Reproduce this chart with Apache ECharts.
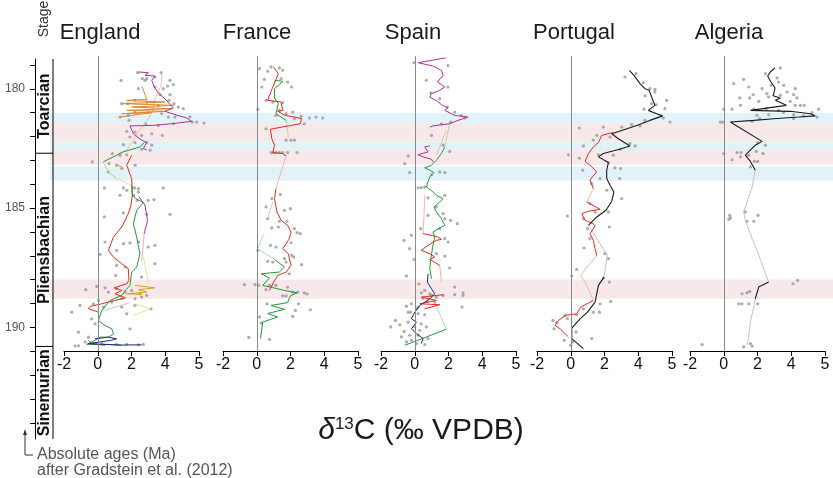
<!DOCTYPE html>
<html>
<head>
<meta charset="utf-8">
<script src="https://cdn.jsdelivr.net/npm/echarts@6/dist/echarts.min.js"></script>
<style>
  html, body { margin: 0; padding: 0; background: #fff; }
  #chart { width: 833px; height: 478px; }
</style>
</head>
<body>
<div id="chart"></div>
<script>
// panels, stages and bands
var panelNames = ['England', 'France', 'Spain', 'Portugal', 'Algeria'];
var stageNames = ['Toarcian', 'Pliensbachian', 'Sinemurian'];
var stageBounds = [[178.75, 182.7], [182.7, 190.8], [190.8, 194.68]];
var ageTicks = [179, 180, 181, 182, 183, 184, 185, 186, 187, 188, 189, 190, 191, 192, 193, 194];
var ageLabels = [180, 185, 190];
var xTickLabels = ['-2', '0', '2', '4', '5'];
var blueBands = [[180.98, 181.42], [182.19, 182.54], [183.23, 183.82]];
var pinkBands = [[181.42, 182.19], [182.54, 183.16], [187.97, 188.78]];

// every pair is [d13C, age Ma]
var englandPoints = [[2.37,179.30],[3.75,179.30],[1.38,179.62],[2.64,179.55],[2.80,179.62],[2.90,179.55],[3.39,179.48],[4.28,179.62],[4.48,179.80],[4.14,179.86],[3.39,179.90],[3.88,179.97],[2.41,179.97],[3.69,180.22],[4.28,180.22],[2.21,180.46],[1.42,180.60],[1.78,180.60],[2.90,180.53],[3.59,180.67],[4.22,180.46],[4.52,180.60],[4.77,180.74],[5.07,180.81],[1.32,181.16],[1.81,181.09],[2.21,180.95],[2.99,180.97],[3.79,181.02],[4.18,181.16],[4.58,181.16],[5.46,181.16],[5.86,181.37],[6.3,181.41],[5.6,181.37],[1.85,181.30],[2.84,181.44],[3.59,181.51],[4.48,181.44],[1.72,181.76],[2.21,181.79],[1.91,182.0],[2.60,181.93],[3.20,181.86],[3.83,181.93],[2.21,182.23],[2.90,182.23],[3.20,182.34],[1.52,182.32],[2.60,182.51],[3.10,182.55],[0.87,182.69],[1.32,182.76],[1.72,182.74],[-0.32,183.04],[0.67,183.11],[1.12,183.18],[1.42,183.32],[2.21,183.18],[0.63,183.46],[0.39,184.13],[1.52,184.13],[1.72,184.23],[2.17,184.13],[2.41,184.16],[2.41,184.30],[3.88,184.13],[1.32,184.44],[2.13,184.44],[2.33,184.65],[2.99,184.65],[3.33,184.62],
  [0.39,185.35],[1.52,185.18],[2.90,185.24],[4.28,185.24],[0.43,186.40],[1.52,186.47],[1.91,186.44],[2.41,186.40],[2.99,186.61],[3.39,186.54],[0.14,186.92],[1.12,186.75],[1.12,187.38],[1.64,187.45],[3.39,187.31],[1.06,187.80],[2.60,187.87],[-0.06,188.26],[-0.71,188.40],[0.43,188.32],[0.63,188.50],[1.12,188.36],[1.64,188.50],[2.01,188.43],[2.50,188.57],[2.90,188.64],[1.42,188.78],[2.21,188.78],[2.60,188.71],[0.04,188.85],[-0.26,188.99],[-1.05,189.06],[-1.54,189.34],[0.34,189.13],[0.83,188.92],[1.42,189.13],[2.21,189.06],[3.16,189.20],[-0.36,189.62],[-0.16,189.83],[1.72,189.41],[1.91,190.04],[-1.14,190.18],[-0.55,190.39],[-0.75,190.59],[-0.26,190.66],[0.24,190.66],[-1.14,190.75],[-1.34,190.76],[1.12,190.69],[1.72,190.69],[2.41,190.71],[2.70,190.69]];
var englandMagenta = [[2.41,179.27],[3.0,179.30],[2.80,179.41],[3.39,179.44],[3.20,179.62],[3.35,179.90],[3.63,180.18],[3.98,180.39],[4.48,180.78],[3.98,180.92],[4.58,181.06],[5.27,181.20],[5.56,181.34],[4.38,181.44],[3.29,181.51],[1.91,181.53],[2.11,181.86],[2.60,182.13],[2.90,182.23],[2.70,182.48],[2.90,182.55]];
var englandMagenta2 = [[2.45,184.5],[2.8,184.86],[2.95,185.5],[2.75,186.05]];
var englandMagentaFaint = [[2.75,186.05],[2.6,187.2]];
var englandOrange = [[2.64,179.90],[2.90,180.42],[1.72,180.46],[3.98,180.53],[1.52,180.60],[4.48,180.67],[2.01,180.74],[4.38,180.81],[1.72,180.88],[3.98,180.92],[1.42,181.02],[3.20,180.97],[1.32,181.16]];
var englandPeach = [[3.81,179.30],[3.75,179.83],[3.39,180.39],[3.20,181.02],[2.41,181.79],[1.72,182.55],[1.24,182.69]];
var englandGreen = [[2.76,182.23],[2.50,182.41],[1.52,182.62],[0.33,183.04]];
var englandLightGreen = [[0.33,183.04],[0.63,183.46],[1.12,183.74]];
var englandGold = [[1.12,183.18],[1.42,183.25],[1.52,183.32]];
var englandPaleYellow = [[0.63,183.46],[1.12,183.74],[2.01,184.02]];
var englandGreen2 = [[2.01,184.02],[2.05,184.44],[2.3,184.6],[2.7,184.75],[2.31,185.07],[2.11,185.63],[2.31,186.19],[2.50,186.89],[2.31,187.45],[2.01,187.66],[1.91,188.22],[1.64,188.43],[1.42,188.64],[0.73,188.85],[0.24,189.27],[0.04,189.69],[0.43,189.90],[0.83,190.04],[0.93,190.25],[0.63,190.39],[0.14,190.39],[-0.36,190.59],[-0.65,190.69],[0.43,190.69],[1.42,190.73]];
var englandLightGreen2 = [[0.24,189.3],[1.9,188.95]];
var englandGold2 = [[2.21,188.22],[3.39,188.32],[2.41,188.40],[2.90,188.50],[1.72,188.57],[2.60,188.60]];
var englandPaleYellow2 = [[2.70,187.03],[3.0,188.08]];
var englandPaleYellow3 = [[2.21,188.99],[3.10,189.20],[2.11,189.48]];
var englandRed = [[2.01,182.76],[1.72,183.18],[2.01,183.74],[2.05,184.44],[1.97,184.86],[1.81,185.21],[1.42,185.77],[0.93,186.19],[0.63,186.75],[0.93,187.03],[1.42,187.31],[1.81,187.52],[1.85,188.01],[1.72,188.15],[0.97,188.32],[1.42,188.43],[1.02,188.57],[1.64,188.74],[1.02,188.85],[0.24,188.99],[-0.45,189.10],[-0.55,189.20],[0.04,189.34]];
var englandRed2 = [[-0.55,190.52],[-0.36,190.66],[0.43,190.73]];
var englandNavy = [[-0.16,190.46],[0.63,190.39],[1.12,190.46],[0.73,190.53],[0.14,190.59],[-0.55,190.66],[0.24,190.69],[1.42,190.72],[2.60,190.71]];

var francePoints = [[0.16,179.13],[0.65,179.24],[0.85,179.06],[1.34,179.10],[1.54,179.20],[0.45,179.58],[0.30,179.90],[1.83,179.69],[2.07,179.90],[1.44,179.55],[0.55,180.46],[0.95,180.53],[1.54,180.56],[1.34,180.88],[0.06,180.83],[1.14,181.09],[1.74,181.02],[2.13,180.95],[2.23,181.23],[2.62,181.13],[2.82,181.44],[3.12,181.20],[3.51,181.16],[3.91,181.20],[0.55,181.65],[1.74,182.13],[2.03,182.13],[2.23,182.13],[0.85,182.65],[1.0,182.65],[1.14,182.65],[1.34,182.65],[1.54,182.65],[1.83,182.65],[2.39,182.65],[0.89,184.58],[1.40,184.41],[0.55,184.93],[1.64,185.07],[1.99,185.00],[0.65,185.42],[1.34,185.53],[1.79,185.53],[0.89,185.81],[1.28,185.77],[2.23,185.84],[2.39,186.01],[2.58,186.05],[2.03,186.43],[0.81,186.54],[1.14,186.61],[0.06,186.75],[1.64,187.10],[2.07,186.96],[2.19,187.03],[0.65,187.21],[0.95,187.24],[1.74,187.24],[2.66,187.35],[1.93,187.73],[-0.73,188.19],[-0.10,188.19],[0.10,188.22],[0.55,188.40],[0.75,188.22],[1.14,188.22],[1.83,188.29],[2.13,188.50],[2.43,188.50],[2.82,188.53],[2.98,188.58],[1.54,188.66],[1.74,188.66],[0.61,188.99],[2.47,188.99],[2.29,189.27],[3.18,189.24],[0.16,189.54],[2.13,189.52],[0.26,189.80],[-0.47,190.40],[0.75,190.48]];
var franceRed = [[1.0,179.07],[1.28,179.34],[1.14,179.58],[0.85,180.08],[0.65,180.46],[1.44,180.53],[1.54,180.88],[1.24,180.92],[1.68,181.09],[2.23,181.16],[2.66,181.23],[2.58,181.44],[0.81,181.67],[0.89,182.07],[1.05,182.34],[0.95,182.65],[1.54,182.69],[1.74,182.79]];
var franceRedFaint = [[1.74,182.79],[1.44,183.46],[1.14,184.16]];
var franceRed2 = [[1.14,184.16],[1.05,184.58],[1.20,185.14],[1.44,185.49],[1.83,185.70],[2.03,185.98],[1.93,186.26],[1.68,186.54],[1.54,186.68],[1.87,186.89],[2.03,187.38],[1.74,187.66],[1.24,187.80],[1.0,188.08],[0.75,188.43]];
var franceGreen = [[1.05,179.62],[1.54,179.66],[1.34,179.80],[1.05,179.97],[1.05,180.36],[1.28,180.60],[1.14,181.02],[1.44,181.16],[1.74,181.30]];
var franceGreenFaint = [[1.74,181.30],[1.87,182.0]];
var franceGreenFaint2 = [[0.95,184.72],[0.65,185.42]];
var franceGreenFaint3 = [[0.41,186.05],[0.06,186.68],[1.05,187.13]];
var franceGreen2 = [[1.05,187.13],[1.64,187.45],[1.34,187.66],[0.26,187.73],[0.75,187.91],[0.35,188.22],[1.05,188.33],[1.64,188.43],[2.39,188.53],[1.99,188.66],[1.83,188.94],[0.85,189.06],[1.64,189.22],[0.65,189.40],[1.24,189.54],[0.35,189.76],[0.22,190.45]];

var spainPoints = [[-0.04,178.88],[1.97,179.0],[0.69,179.62],[1.97,179.90],[0.95,180.14],[1.48,180.39],[1.93,180.74],[2.37,180.95],[2.96,181.20],[2.13,181.37],[2.76,181.09],[1.58,181.44],[0.99,181.93],[1.68,182.34],[2.07,182.60],[-0.39,182.79],[-0.59,183.11],[-0.30,183.49],[1.48,183.46],[1.78,183.49],[0.99,183.58],[0.20,184.13],[0.39,184.12],[0.59,184.09],[0.79,184.55],[1.78,184.44],[1.28,184.93],[1.68,185.21],[0.79,185.28],[1.78,185.42],[2.13,185.49],[2.52,185.63],[0.35,185.84],[1.48,185.84],[-0.20,186.12],[-0.63,186.33],[1.78,186.26],[1.97,186.40],[-0.30,186.68],[1.28,186.89],[1.78,186.99],[-0.04,187.13],[2.07,187.49],[-0.49,187.82],[0.24,188.16],[2.37,188.29],[2.86,188.53],[2.37,188.61],[2.86,188.64],[0.39,188.53],[0.59,188.43],[0.89,188.57],[0.99,188.64],[1.28,188.71],[1.68,188.64],[0.49,188.78],[0.75,188.89],[1.18,188.92],[-0.20,188.99],[-0.49,189.09],[0.10,189.20],[2.80,189.13],[-0.24,189.34],[0.20,189.40],[0.59,189.45],[-1.14,189.69],[-0.89,189.87],[-1.42,189.96],[-0.39,189.76],[0.39,189.83],[0,189.96],[0.69,189.96],[-0.63,190.15],[-0.30,190.31],[0.20,190.31],[-0.79,190.38],[0.79,190.45],[-0.49,190.59],[0.10,190.66],[0.59,190.70],[-0.20,190.52],[0.30,190.10],[-0.39,189.34],[0.20,189.13]];
var spainMagenta = [[1.83,178.68],[0.20,178.88],[1.08,179.02],[1.58,179.20],[1.68,179.41],[1.34,179.69],[1.78,179.90],[1.48,180.04],[0.99,180.18],[0.89,180.32],[1.34,180.50],[1.58,180.64],[1.97,180.78],[1.78,180.88],[2.37,181.09],[3.16,181.16],[2.56,181.30],[2.07,181.44],[1.08,181.53],[0.89,181.58]];
var spainMagenta2 = [[0.89,182.37],[0.59,182.41],[0.79,182.62],[0.20,182.74],[0.49,182.83],[0.99,182.93],[1.08,183.04]];
var spainRedFaint = [[1.87,181.72],[1.68,182.07],[1.28,182.76]];
var spainRedFaint2 = [[0.59,184.44],[0.55,185.3],[0.49,186.05]];
var spainRed = [[0.49,186.05],[0.99,186.12],[1.38,186.19],[1.58,186.29],[1.28,186.33],[0.79,186.54],[0.39,186.75],[0.89,186.89],[1.18,187.03],[0.89,187.13],[1.48,187.38]];
var spainRedFaint3 = [[1.48,187.38],[1.58,188.08]];
var spainRed2 = [[1.68,188.61],[0.39,188.71],[1.28,188.85],[0.30,188.99],[1.48,189.03],[0.59,189.20]];
var spainGreenFaint = [[2.07,181.44],[1.78,182.41]];
var spainGreen = [[1.78,182.41],[1.58,182.69],[1.28,182.97],[0.99,183.18],[0.59,183.29],[0.89,183.39],[1.14,183.49],[0.89,183.67],[0.79,183.86],[0.69,184.09],[1.08,184.30],[1.28,184.44],[1.68,184.58],[1.48,184.72],[1.14,184.93],[1.28,185.14],[1.58,185.42],[1.78,185.70],[1.48,185.81],[1.08,185.98],[1.18,186.19],[1.08,186.54],[0.95,187.10],[0.89,187.52],[0.99,187.94]];
var spainGreenFaint2 = [[1.18,188.92],[1.87,190.06]];
var spainGreenBottom = [[-0.59,190.73],[1.87,190.06]];
var spainNavy = [[0.79,187.73],[0.75,188.08],[0.99,188.36],[1.18,188.57],[0.89,188.78],[0.30,189.06],[0,189.34],[-0.20,189.62],[0.10,189.76],[-0.20,190.04],[0.10,190.24],[0.49,190.45],[0.39,190.66]];

var portugalPoints = [[3.21,179.48],[3.87,179.34],[4.30,179.72],[4.69,179.97],[4.99,180.0],[4.40,180.27],[4.99,180.11],[5.68,180.46],[4.79,180.60],[5.05,180.64],[4.34,180.83],[5.58,180.81],[5.88,181.37],[5.48,181.20],[4.40,181.30],[4.10,181.53],[3.61,181.48],[0.51,181.62],[1.93,181.58],[3.02,181.58],[1.54,181.93],[2.33,182.0],[1.34,182.13],[0.75,182.37],[3.51,182.27],[3.81,182.37],[2.92,182.51],[-0.14,182.74],[0.51,182.88],[1.64,182.74],[2.52,182.76],[2.23,183.07],[2.62,183.29],[2.96,183.32],[0.71,183.39],[1.74,183.74],[2.90,183.74],[1.24,183.95],[2.13,184.23],[3.02,184.58],[1.14,184.79],[1.44,185.14],[2.23,185.14],[-0.20,185.31],[0.75,185.42],[2.29,185.77],[0.99,185.84],[1.14,186.26],[0.79,186.65],[2.03,186.89],[2.23,187.10],[0.35,187.55],[0.06,187.82],[1.93,187.91],[2.29,188.08],[2.37,188.89],[1.74,188.99],[0.75,189.20],[1.34,189.34],[1.70,189.34],[0.35,189.45],[-0.33,189.48],[-1.06,189.69],[-0.83,189.78],[-0.20,189.61],[-0.99,190.04],[0.32,190.17],[1.24,190.45],[-0.39,190.52],[0.12,190.59],[0,190.73]];
var portugalBlack = [[3.47,179.20],[3.75,179.41],[4.10,179.76],[4.40,179.97],[4.65,180.04],[4.79,180.32],[4.99,180.67],[4.60,180.88],[5.09,181.02],[5.44,181.11],[4.69,181.30],[3.91,181.51],[3.02,181.72],[2.43,181.86],[2.82,182.07],[3.51,182.37],[2.88,182.51],[1.93,182.69],[1.64,182.83],[2.23,183.07],[2.13,183.39],[2.13,183.74],[2.33,184.02],[2.56,184.30],[2.43,184.69],[2.09,185.07],[1.54,185.35],[1.05,185.70]];
var portugalGrayMid = [[1.05,185.70],[1.5,186.2],[2.17,186.96],[2.09,187.35],[1.97,187.87]];
var portugalBlack2 = [[1.97,187.87],[1.64,188.22],[1.44,188.92],[0.99,189.34],[0.55,189.62],[0.06,190.01],[0.06,190.45],[0.75,190.87]];
var portugalRed = [[2.49,181.81],[1.83,181.93],[1.64,182.23],[1.34,182.41],[1.05,182.69],[0.85,183.02],[1.14,183.18],[1.54,183.46],[1.28,183.67],[1.14,183.81],[1.34,184.16]];
var portugalRedFaint = [[1.34,184.16],[1.14,184.44],[0.95,184.72]];
var portugalRed2 = [[0.95,184.72],[1.74,185.03],[1.05,185.11],[0.65,185.21],[0.85,185.49],[1.34,185.63],[1.44,185.73],[1.14,186.05],[1.34,186.33],[1.44,186.68],[1.54,186.96]];
var portugalRedFaint2 = [[1.54,186.96],[1.05,187.38],[0.59,187.80],[0.95,188.22],[1.34,188.85]];
var portugalRed3 = [[1.34,188.85],[0.59,189.13],[0.35,189.41],[-0.33,189.48],[-0.73,189.69],[-0.93,189.90],[-0.63,190.04],[-0.14,190.38]];

var algeriaPoints = [[3.35,179.10],[2.47,179.34],[3.16,179.52],[1.18,179.58],[3.25,179.69],[0.59,179.76],[2.80,179.83],[1.48,179.90],[3.55,179.83],[2.27,179.97],[4.24,179.97],[3.75,180.11],[2.56,180.18],[4.14,180.22],[1.74,180.22],[3.35,180.25],[0.95,180.36],[4.34,180.36],[1.54,180.36],[2.66,180.32],[2.07,180.50],[3.94,180.50],[0.99,180.67],[4.24,180.67],[4.54,180.67],[4.77,180.67],[0,180.83],[0.49,180.83],[1.78,180.83],[2.52,180.81],[5.62,180.83],[3.25,180.88],[1.97,181.09],[2.66,181.06],[3.55,180.97],[4.14,181.06],[4.73,181.11],[5.23,180.97],[5.52,181.16],[2.13,181.23],[4.14,181.23],[-0.20,181.37],[-0.04,181.37],[1.68,181.34],[2.47,182.34],[2.01,182.23],[0,182.69],[0.79,182.65],[1.03,182.65],[0.99,182.83],[1.48,182.76],[1.93,182.60],[2.33,182.69],[0.49,182.95],[1.81,183.02],[2.01,183.02],[1.58,183.25],[0.35,185.28],[0.39,185.39],[0.30,185.45],[1.28,185.14],[1.38,185.53],[1.78,185.53],[2.03,185.28],[4.10,188.15],[4.38,188.01],[1.08,188.57],[1.38,188.53],[1.54,188.47],[0.89,188.99],[1.08,188.99],[1.48,188.99],[2.01,188.99],[-1.28,190.70],[1.18,190.80],[1.68,190.76],[1.58,190.66]];
var algeriaBlack = [[3.04,179.10],[2.76,179.27],[2.60,179.44],[2.80,179.69],[3.04,179.94],[2.98,180.13],[2.92,180.27],[3.35,180.36],[3.06,180.46],[3.71,180.67],[1.58,180.88],[3.94,180.92],[5.13,181.02],[5.42,181.11],[4.44,181.16],[2.96,181.23],[1.78,181.30],[0.39,181.37],[2.27,182.18],[1.87,182.34],[1.28,182.76],[1.58,183.02],[1.87,183.39]];
var algeriaFaint = [[1.87,183.39],[1.68,184.09],[1.38,184.72],[1.18,185.14],[1.28,185.49],[1.68,186.26],[2.01,186.82],[2.37,187.52],[2.66,188.08]];
var algeriaBlack2 = [[2.66,188.08],[2.07,188.29],[1.87,188.78]];
var algeriaFaint2 = [[1.87,188.78],[1.58,189.76],[1.48,190.38],[1.38,190.73]];

var C = {
  magenta: '#b2318e', orange: '#e0852a', peach: '#f6b58e', green: '#1e9a3c',
  lightGreen: '#a6d9a3', red: '#e8281e', lightRed: '#f4a9a6', gold: '#d9a21b',
  paleYellow: '#efd98a', navy: '#24287e', black: '#1a1a1a', lightGray: '#bbbbbb'
};

var panels = [
  { points: englandPoints, lines: [
    [englandPeach, C.peach, 0.9], [englandPaleYellow, C.paleYellow, 0.9], [englandPaleYellow2, C.paleYellow, 0.9], [englandPaleYellow3, C.paleYellow, 0.9],
    [englandLightGreen, C.lightGreen, 0.9], [englandLightGreen2, C.lightGreen, 0.9], [englandMagentaFaint, '#dca3cf', 0.9],
    [englandRed, C.red, 1], [englandRed2, C.red, 1], [englandGreen, C.green, 1], [englandGreen2, C.green, 1],
    [englandGold, C.gold, 1], [englandGold2, C.gold, 1], [englandOrange, C.orange, 1],
    [englandMagenta, C.magenta, 1], [englandMagenta2, C.magenta, 1], [englandNavy, C.navy, 1]
  ]},
  { points: francePoints, lines: [
    [franceRedFaint, C.lightRed, 0.9], [franceGreenFaint, C.lightGreen, 0.9], [franceGreenFaint2, C.lightGreen, 0.9], [franceGreenFaint3, C.lightGreen, 0.9],
    [franceGreen, C.green, 1], [franceGreen2, C.green, 1], [franceRed, C.red, 1], [franceRed2, C.red, 1]
  ]},
  { points: spainPoints, lines: [
    [spainRedFaint, C.lightRed, 0.9], [spainRedFaint2, C.lightRed, 0.9], [spainRedFaint3, C.lightRed, 0.9],
    [spainGreenFaint, C.lightGreen, 0.9], [spainGreenFaint2, C.lightGreen, 0.9],
    [spainGreen, C.green, 1], [spainGreenBottom, C.green, 1], [spainRed, C.red, 1], [spainRed2, C.red, 1],
    [spainMagenta, C.magenta, 1], [spainMagenta2, C.magenta, 1], [spainNavy, C.navy, 1]
  ]},
  { points: portugalPoints, lines: [
    [portugalGrayMid, C.lightGray, 0.9], [portugalRedFaint, C.lightRed, 0.9], [portugalRedFaint2, C.lightRed, 0.9],
    [portugalRed, C.red, 1], [portugalRed2, C.red, 1], [portugalRed3, C.red, 1],
    [portugalBlack, C.black, 1.1], [portugalBlack2, C.black, 1.1]
  ]},
  { points: algeriaPoints, lines: [
    [algeriaFaint, C.lightGray, 0.9], [algeriaFaint2, C.lightGray, 0.9],
    [algeriaBlack, C.black, 1.1], [algeriaBlack2, C.black, 1.1]
  ]}
];

var FONT = '"Liberation Sans", Arial, sans-serif';
var panelLefts = [64, 223, 381, 537, 690];
var titleCenters = [100, 257, 413, 574, 729];
var PANEL_TOP = 56, PANEL_H = 295, AGE_MIN = 178.6, AGE_MAX = 190.97;

var grids = [], xAxes = [], yAxes = [], series = [];

panelNames.forEach(function (name, i) {
  grids.push({ left: panelLefts[i], top: PANEL_TOP, width: 135, height: PANEL_H });
  xAxes.push({
    gridIndex: i, type: 'value', min: -2, max: 6, interval: 2,
    axisLine: { show: true, onZero: false, lineStyle: { color: '#000', width: 1 } },
    axisTick: { show: true, length: 5, lineStyle: { color: '#000' } },
    axisLabel: { fontSize: 16, color: '#111', fontFamily: FONT, margin: 6,
      formatter: function (v) { return xTickLabels[(v + 2) / 2]; } },
    splitLine: { show: false }
  });
  yAxes.push({ gridIndex: i, type: 'value', inverse: true, min: AGE_MIN, max: AGE_MAX, show: false });

  var p = panels[i];
  series.push({
    type: 'scatter', xAxisIndex: i, yAxisIndex: i, data: p.points, clip: false,
    symbolSize: 3.2, itemStyle: { color: '#909090', opacity: 0.75 }, z: 3, silent: true,
    markLine: {
      silent: true, symbol: 'none', label: { show: false },
      lineStyle: { color: '#8a8a8a', type: 'solid', width: 1 },
      data: [{ xAxis: 0 }]
    }
  });
  p.lines.forEach(function (l) {
    series.push({
      type: 'line', xAxisIndex: i, yAxisIndex: i, data: l[0], showSymbol: false,
      lineStyle: { color: l[1], width: l[2] }, z: 4, silent: true, clip: false
    });
  });
});

// stage column with the age axis
grids.push({ left: 35, top: 59, width: 18, height: 380 });
xAxes.push({ gridIndex: 5, type: 'value', min: 0, max: 1, show: false });
yAxes.push({
  gridIndex: 5, type: 'value', inverse: true, min: 178.75, max: 194.68,
  axisLine: { show: true, lineStyle: { color: '#000', width: 1 } },
  axisTick: { show: true, length: 5, customValues: ageTicks, lineStyle: { color: '#000' } },
  axisLabel: { customValues: ageLabels, color: '#555', fontSize: 12, fontFamily: FONT, margin: 10 },
  splitLine: { show: false }
});
series.push({
  type: 'custom', xAxisIndex: 5, yAxisIndex: 5, silent: true, z: 5,
  data: stageBounds.map(function (b) { return [0, b[0], b[1]]; }),
  renderItem: function (params, api) {
    var a = api.coord([0, api.value(1)]);
    var b = api.coord([1, api.value(2)]);
    var kids = [
      { type: 'line', shape: { x1: b[0], y1: a[1], x2: b[0], y2: b[1] }, style: { stroke: '#000', lineWidth: 1 } },
      { type: 'text', x: (a[0] + b[0]) / 2 + 0.5, y: (a[1] + b[1]) / 2, rotation: Math.PI / 2,
        style: { text: stageNames[params.dataIndex], font: 'bold 16px ' + FONT, fill: '#111', align: 'center', verticalAlign: 'middle' } }
    ];
    if (params.dataIndex < stageNames.length - 1) {
      kids.push({ type: 'line', shape: { x1: a[0], y1: b[1], x2: b[0], y2: b[1] }, style: { stroke: '#000', lineWidth: 1 } });
    }
    return { type: 'group', children: kids };
  }
});

// background bands across all panels
grids.push({ left: 50, top: PANEL_TOP, right: 0, height: PANEL_H });
xAxes.push({ gridIndex: 6, type: 'value', min: 0, max: 1, show: false });
yAxes.push({ gridIndex: 6, type: 'value', inverse: true, min: AGE_MIN, max: AGE_MAX, show: false });
series.push({
  type: 'scatter', xAxisIndex: 6, yAxisIndex: 6, data: [[0.5, 185]], symbolSize: 0,
  itemStyle: { opacity: 0 }, silent: true, z: 1,
  markArea: {
    silent: true,
    data: blueBands.map(function (b) { return [{ yAxis: b[0], itemStyle: { color: '#e2f2f9' } }, { yAxis: b[1] }]; })
      .concat(pinkBands.map(function (b) { return [{ yAxis: b[0], itemStyle: { color: '#f7e9ea' } }, { yAxis: b[1] }]; }))
  }
});

var graphics = [];
panelNames.forEach(function (name, i) {
  graphics.push({ type: 'text', x: titleCenters[i], y: 33, silent: true,
    style: { text: name, font: '22px ' + FONT, fill: '#1a1a1a', align: 'center', verticalAlign: 'middle' } });
});
graphics.push(
  { type: 'text', x: 44, y: 19, rotation: Math.PI / 2, silent: true,
    style: { text: 'Stage', font: '14px ' + FONT, fill: '#333', align: 'center', verticalAlign: 'middle' } },
  { type: 'text', x: 421, y: 431, silent: true,
    style: { text: '{d|δ}{s|13}{n|C (‰ VPDB)}', align: 'center', verticalAlign: 'middle',
      rich: {
        d: { fontSize: 30, fontStyle: 'italic', fontFamily: FONT, fill: '#1a1a1a' },
        s: { fontSize: 17, fontFamily: FONT, fill: '#1a1a1a', verticalAlign: 'top' },
        n: { fontSize: 30, fontFamily: FONT, fill: '#1a1a1a' }
      } } },
  { type: 'polyline', silent: true, shape: { points: [[25, 433], [25, 455], [33, 455]] },
    style: { stroke: '#333', lineWidth: 1, fill: null } },
  { type: 'polygon', silent: true, shape: { points: [[23, 435], [27, 435], [25, 429]] },
    style: { fill: '#333' } },
  { type: 'text', x: 37, y: 455, silent: true,
    style: { text: 'Absolute ages (Ma)', font: '16px ' + FONT, fill: '#555', align: 'left', verticalAlign: 'middle' } },
  { type: 'text', x: 37, y: 471, silent: true,
    style: { text: 'after Gradstein et al. (2012)', font: '16px ' + FONT, fill: '#555', align: 'left', verticalAlign: 'middle' } }
);

var chart = echarts.init(document.getElementById('chart'));
chart.setOption({
  animation: false,
  backgroundColor: '#fff',
  grid: grids,
  xAxis: xAxes,
  yAxis: yAxes,
  series: series,
  graphic: graphics
});
</script>
</body>
</html>
